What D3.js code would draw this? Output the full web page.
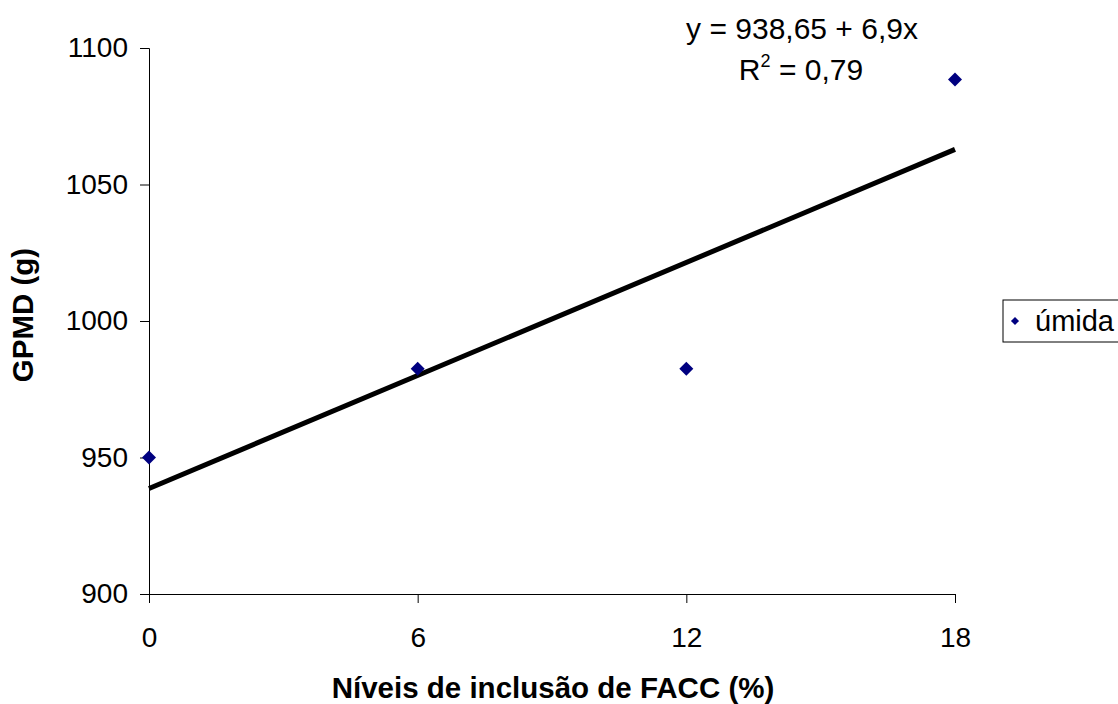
<!DOCTYPE html>
<html><head><meta charset="UTF-8">
<style>
body { margin: 0; background: #fff; }
text { font-family: "Liberation Sans", Arial, sans-serif; fill: #000; }
.axis path, .axis line { stroke: #000; stroke-width: 1; }
.trend { fill: none; stroke: #000; stroke-width: 5; }
.dot { fill: #000080; }
</style>
<script src="https://cdn.jsdelivr.net/npm/d3@7"></script>
</head><body>
<div id="chart"></div>
<script>
// data
var levels = [0, 6, 12, 18];
var gain = [950, 982.5, 982.5, 1088.5];
var xTicks = [0, 6, 12, 18];
var yTicks = [900, 950, 1000, 1050, 1100];
var intercept = 938.65, slope = 6.9;
var seriesName = "úmida";

var margin = {top: 48, right: 163, bottom: 110, left: 149}
  , width = 1118 - margin.left - margin.right
  , height = 704 - margin.top - margin.bottom;

var svg = d3.select("#chart").append("svg")
    .attr("width", 1118).attr("height", 704);
var g = svg.append("g")
    .attr("transform", "translate(" + margin.left + "," + margin.top + ")");

var xScale = d3.scaleLinear().domain([0, 18]).range([0, width]);
var yScale = d3.scaleLinear().domain([900, 1100]).range([height, 0]);

g.append("g").attr("class", "x axis")
    .attr("transform", "translate(0," + height + ")")
    .call(d3.axisBottom(xScale).tickValues(xTicks).tickFormat(d3.format("d"))
      .tickSize(9).tickPadding(24).tickSizeOuter(9))
    .selectAll("text").style("font-size", "28px").style("font-family", "'Liberation Sans', Arial, sans-serif");

g.append("g").attr("class", "y axis")
    .call(d3.axisLeft(yScale).tickValues(yTicks).tickFormat(d3.format("d"))
      .tickSize(9).tickPadding(12).tickSizeOuter(9))
    .selectAll("text").style("font-size", "28px").style("font-family", "'Liberation Sans', Arial, sans-serif");

// trend line from the fitted equation
g.append("path")
    .datum([0, 18])
    .attr("class", "trend")
    .attr("d", d3.line()
      .x(function(d) { return xScale(d); })
      .y(function(d) { return yScale(intercept + slope * d); }));

var diamond = d3.symbol().type(d3.symbolDiamond2).size(125);
g.selectAll(".dot")
    .data(levels)
    .enter().append("path")
    .attr("class", "dot")
    .attr("d", diamond)
    .attr("transform", function(d, i) {
      return "translate(" + xScale(d) + "," + yScale(gain[i]) + ")";
    });

// equation
svg.append("text")
    .attr("x", 802).attr("y", 39)
    .attr("text-anchor", "middle")
    .style("font-size", "30px")
    .text("y = 938,65 + 6,9x");
var r2 = svg.append("text")
    .attr("x", 801).attr("y", 80)
    .attr("text-anchor", "middle")
    .style("font-size", "30px");
r2.append("tspan").text("R");
r2.append("tspan").attr("dy", -13).style("font-size", "18px").text("2");
r2.append("tspan").attr("dy", 13).text(" = 0,79");

// axis titles
svg.append("text")
    .attr("x", 553).attr("y", 698)
    .attr("text-anchor", "middle")
    .style("font-size", "29.5px").style("font-weight", "bold")
    .text("Níveis de inclusão de FACC (%)");
svg.append("text")
    .attr("transform", "translate(33,315) rotate(-90)")
    .attr("text-anchor", "middle")
    .style("font-size", "29.5px").style("font-weight", "bold")
    .text("GPMD (g)");

// legend
var lg = svg.append("g").attr("transform", "translate(1003,300)");
lg.append("rect")
    .attr("width", 140).attr("height", 42)
    .attr("fill", "#fff").attr("stroke", "#000").attr("stroke-width", 1);
lg.append("path")
    .attr("class", "dot")
    .attr("d", d3.symbol().type(d3.symbolDiamond2).size(42))
    .attr("transform", "translate(12,21)");
lg.append("text")
    .attr("x", 32).attr("y", 31)
    .style("font-size", "29px")
    .text(seriesName);
</script>
</body></html>
